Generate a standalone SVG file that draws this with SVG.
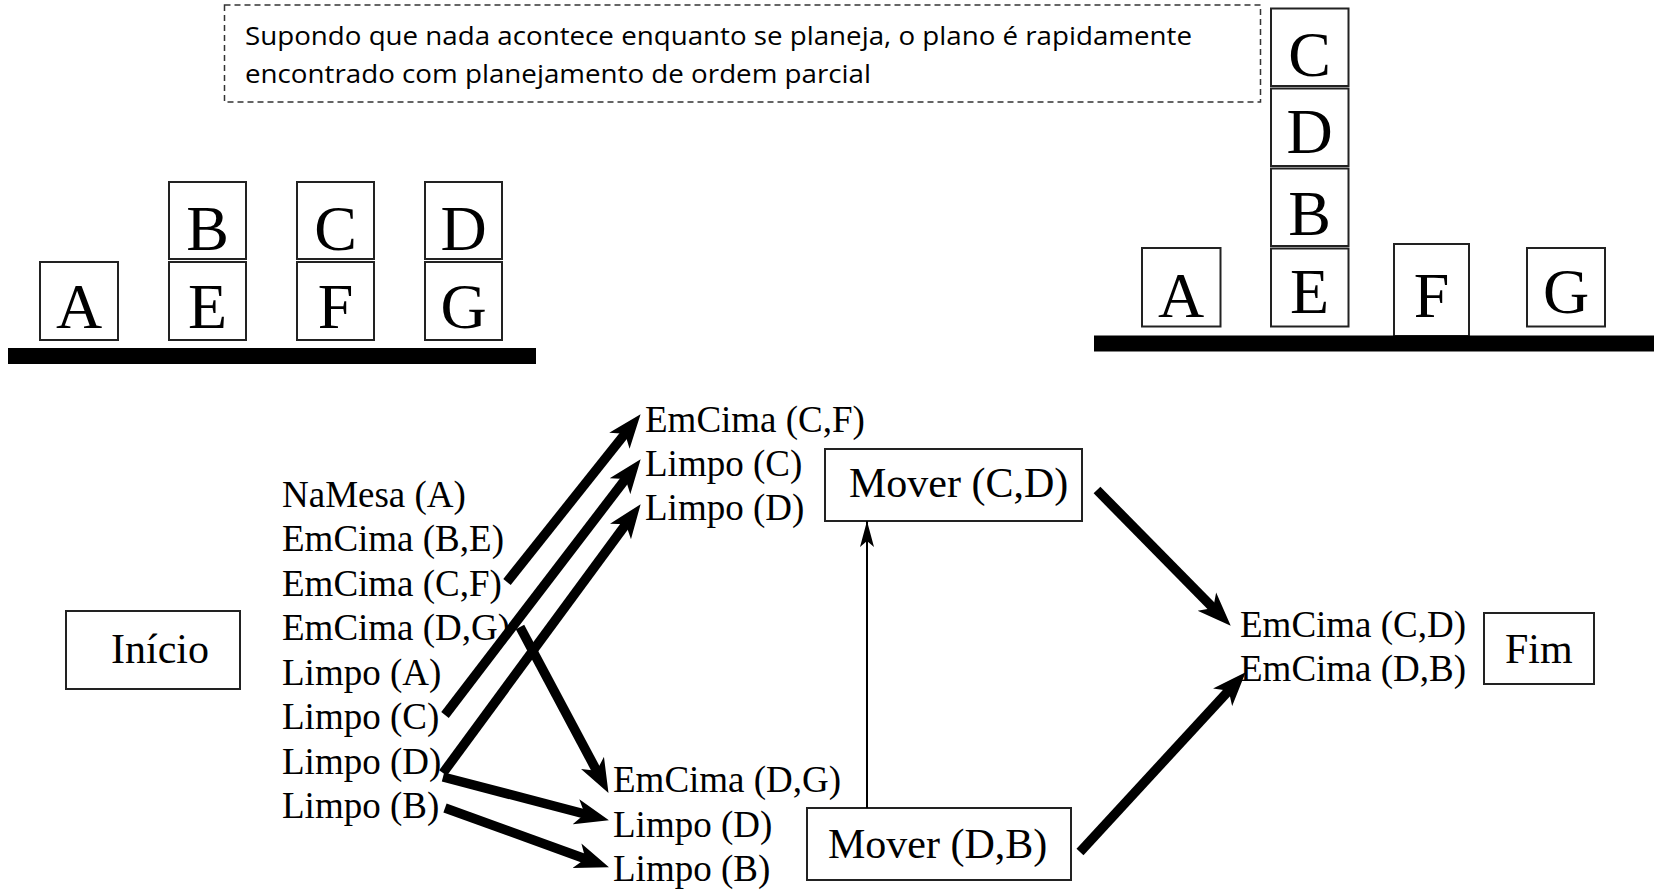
<svg xmlns="http://www.w3.org/2000/svg" width="1661" height="893" viewBox="0 0 1661 893">
<style>
.blk{fill:#fff;stroke:#222;stroke-width:2}
.bl{font-family:"Liberation Serif","Times New Roman",serif;font-size:64px;fill:#000;text-anchor:middle}
.t{font-family:"Liberation Serif","Times New Roman",serif;font-size:37px;fill:#000}
.tb{font-family:"Liberation Serif","Times New Roman",serif;font-size:42px;fill:#000}
.box{fill:#fff;stroke:#222;stroke-width:2}
.note{font-family:"Open Sans","Noto Sans","Liberation Sans",sans-serif;font-size:25px;fill:#000}
.thick{stroke:#000;stroke-width:9.5;fill:none;marker-end:url(#big)}
.thin{stroke:#000;stroke-width:2;fill:none;marker-end:url(#small)}
</style>
<defs>
<marker id="big" markerUnits="userSpaceOnUse" viewBox="0 0 34 28" markerWidth="34" markerHeight="28" refX="13" refY="14" orient="auto">
<path d="M0,1 L34,14 L0,27 L9,14 Z" fill="#000"/>
</marker>
<marker id="small" markerUnits="userSpaceOnUse" viewBox="0 0 26 14" markerWidth="26" markerHeight="14" refX="26" refY="7" orient="auto">
<path d="M0,0 L26,7 L0,14 L6,7 Z" fill="#000"/>
</marker>
</defs>
<rect width="1661" height="893" fill="#fff"/>

<g id="note">
<rect x="224.5" y="5" width="1036" height="97" fill="none" stroke="#333" stroke-width="1.5" stroke-dasharray="6 4"/>
<text class="note" x="245" y="45" textLength="947" lengthAdjust="spacingAndGlyphs">Supondo que nada acontece enquanto se planeja, o plano é rapidamente</text>
<text class="note" x="245" y="83" textLength="626" lengthAdjust="spacingAndGlyphs">encontrado com planejamento de ordem parcial</text>
</g>

<g id="initial-state">
<rect class="blk" x="40" y="262" width="78" height="78"/><text class="bl" x="79" y="328">A</text>
<rect class="blk" x="169" y="182" width="77" height="77"/><text class="bl" x="207.5" y="250">B</text>
<rect class="blk" x="169" y="262" width="77" height="78"/><text class="bl" x="207.5" y="328">E</text>
<rect class="blk" x="297" y="182" width="77" height="77"/><text class="bl" x="335.5" y="250">C</text>
<rect class="blk" x="297" y="262" width="77" height="78"/><text class="bl" x="335.5" y="328">F</text>
<rect class="blk" x="425" y="182" width="77" height="77"/><text class="bl" x="463.5" y="250">D</text>
<rect class="blk" x="425" y="262" width="77" height="78"/><text class="bl" x="463.5" y="328">G</text>
<rect x="8" y="348" width="528" height="16" fill="#000"/>
</g>

<g id="goal-state">
<rect class="blk" x="1271" y="8.5" width="77.5" height="77.5"/><text class="bl" x="1309.5" y="76">C</text>
<rect class="blk" x="1271" y="88.5" width="77.5" height="77.5"/><text class="bl" x="1309.5" y="153">D</text>
<rect class="blk" x="1271" y="168.5" width="77.5" height="77.5"/><text class="bl" x="1309.5" y="235">B</text>
<rect class="blk" x="1271" y="248.5" width="77.5" height="78"/><text class="bl" x="1309.5" y="313">E</text>
<rect class="blk" x="1142" y="248" width="78.5" height="78.5"/><text class="bl" x="1181" y="317">A</text>
<rect class="blk" x="1394" y="244" width="75" height="92"/><text class="bl" x="1431.5" y="317">F</text>
<rect class="blk" x="1527" y="248" width="78" height="78.5"/><text class="bl" x="1566" y="313">G</text>
<rect x="1094" y="335.5" width="560" height="16" fill="#000"/>
</g>

<g id="inicio">
<rect class="box" x="66" y="611" width="174" height="78"/>
<text class="tb" x="111" y="663">Início</text>
</g>

<g id="inicio-effects">
<text class="t" x="282" y="507">NaMesa (A)</text>
<text class="t" x="282" y="551">EmCima (B,E)</text>
<text class="t" x="282" y="596">EmCima (C,F)</text>
<text class="t" x="282" y="640">EmCima (D,G)</text>
<text class="t" x="282" y="685">Limpo (A)</text>
<text class="t" x="282" y="729">Limpo (C)</text>
<text class="t" x="282" y="774">Limpo (D)</text>
<text class="t" x="282" y="818">Limpo (B)</text>
</g>

<g id="mover-cd-preconds">
<text class="t" x="645" y="432">EmCima (C,F)</text>
<text class="t" x="645" y="476">Limpo (C)</text>
<text class="t" x="645" y="520">Limpo (D)</text>
</g>

<g id="mover-cd">
<rect class="box" x="825" y="449" width="257" height="72"/>
<text class="tb" x="849" y="497">Mover (C,D)</text>
</g>

<g id="mover-db-preconds">
<text class="t" x="613" y="792">EmCima (D,G)</text>
<text class="t" x="613" y="837">Limpo (D)</text>
<text class="t" x="613" y="881">Limpo (B)</text>
</g>

<g id="mover-db">
<rect class="box" x="807" y="808" width="264" height="72"/>
<text class="tb" x="828" y="858">Mover (D,B)</text>
</g>

<g id="fim-preconds">
<text class="t" x="1240" y="637">EmCima (C,D)</text>
<text class="t" x="1240" y="681">EmCima (D,B)</text>
</g>

<g id="fim">
<rect class="box" x="1484" y="613" width="110" height="71"/>
<text class="tb" x="1505" y="663">Fim</text>
</g>

<g id="connectors">
<line class="thick" x1="507" y1="582" x2="627.5" y2="430.6"/>
<line class="thick" x1="445" y1="715" x2="627.9" y2="475.9"/>
<line class="thick" x1="443" y1="773" x2="628.2" y2="521.1"/>
<line class="thick" x1="520" y1="627" x2="598.6" y2="774.4"/>
<line class="thick" x1="443" y1="777" x2="588.6" y2="815"/>
<line class="thick" x1="445" y1="808" x2="589.2" y2="860.2"/>
<line class="thick" x1="1097" y1="490" x2="1216" y2="610.8"/>
<line class="thick" x1="1080" y1="852" x2="1231.4" y2="687.7"/>
<line class="thin" x1="867" y1="808" x2="867" y2="521"/>
</g>
</svg>
